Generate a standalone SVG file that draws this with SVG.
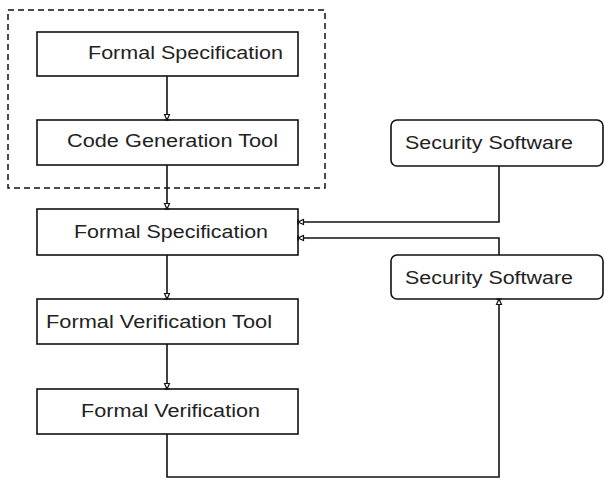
<svg xmlns="http://www.w3.org/2000/svg" width="604" height="480" viewBox="0 0 604 480">
<style>
.box{fill:#fff;stroke:#111;stroke-width:1.6}
.t{font-family:"Liberation Sans",Arial,sans-serif;font-size:17.5px;fill:#222}
.c{fill:none;stroke:#111;stroke-width:1.6}
</style>
<defs>
<marker id="ah" markerWidth="8" markerHeight="8" refX="6.5" refY="4" orient="auto" markerUnits="userSpaceOnUse">
<path d="M1,1.5 L6.5,4 L1,6.5 Z M6.5,1 L6.5,7" fill="#fff" stroke="#111" stroke-width="1.2"/>
</marker>
</defs>
<rect x="8" y="10" width="317" height="178" fill="none" stroke="#111" stroke-width="1.5" stroke-dasharray="6,4"/>
<g id="n1"><rect class="box" x="37" y="32" width="261" height="44"/><text class="t" x="88" y="59" textLength="195" lengthAdjust="spacingAndGlyphs">Formal Specification</text></g>
<g id="n2"><rect class="box" x="37" y="120" width="261" height="45"/><text class="t" x="67" y="147" textLength="211" lengthAdjust="spacingAndGlyphs">Code Generation Tool</text></g>
<g id="n3"><rect class="box" x="37" y="209" width="261" height="46"/><text class="t" x="74" y="238" textLength="194" lengthAdjust="spacingAndGlyphs">Formal Specification</text></g>
<g id="n4"><rect class="box" x="37" y="299" width="261" height="45"/><text class="t" x="46" y="328" textLength="226" lengthAdjust="spacingAndGlyphs">Formal Verification Tool</text></g>
<g id="n5"><rect class="box" x="37" y="389" width="261" height="45"/><text class="t" x="81" y="417" textLength="179" lengthAdjust="spacingAndGlyphs">Formal Verification</text></g>
<g id="s1"><rect class="box" x="391" y="120" width="212" height="46" rx="6"/><text class="t" x="405" y="149" textLength="168" lengthAdjust="spacingAndGlyphs">Security Software</text></g>
<g id="s2"><rect class="box" x="391" y="255" width="212" height="44" rx="6"/><text class="t" x="405" y="284" textLength="168" lengthAdjust="spacingAndGlyphs">Security Software</text></g>
<g id="connectors">
<path class="c" d="M167,76 V120" marker-end="url(#ah)"/>
<path class="c" d="M167,165 V209" marker-end="url(#ah)"/>
<path class="c" d="M167,255 V299" marker-end="url(#ah)"/>
<path class="c" d="M167,344 V389" marker-end="url(#ah)"/>
<path class="c" d="M499,166 V222 H298" marker-end="url(#ah)"/>
<path class="c" d="M499,255 V238 H298" marker-end="url(#ah)"/>
<path class="c" d="M167,434 V477 H499 V299" marker-end="url(#ah)"/>
</g>
</svg>
